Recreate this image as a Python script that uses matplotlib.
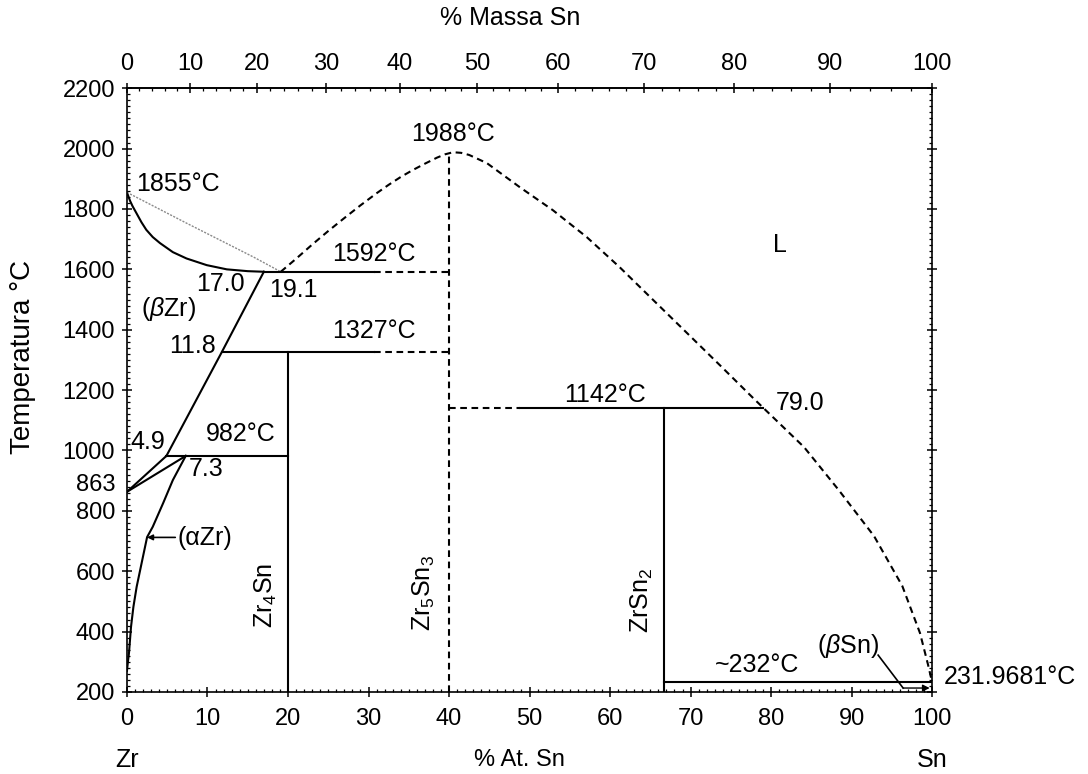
import numpy as np
import matplotlib.pyplot as plt
from matplotlib.ticker import MultipleLocator, FixedLocator

plt.rcParams['font.family'] = ['Liberation Sans', 'DejaVu Sans']
plt.rcParams['mathtext.fontset'] = 'custom'
plt.rcParams['mathtext.rm'] = 'Liberation Sans'
plt.rcParams['mathtext.it'] = 'Liberation Sans:italic'

M_ZR = 91.224
M_SN = 118.71

# phase boundaries (x = at.% Sn, T in degC)
solidus_x = [0, 0.2, 0.4, 0.7, 1.2, 1.8, 2.4, 3.2, 4.1, 5.7, 7.4, 9.9, 12.4, 15.0, 17.0]
solidus_T = [1855, 1840, 1826, 1809, 1785, 1756, 1731, 1707, 1687, 1657, 1636, 1614, 1600, 1594, 1592]

liq_faint_x = [0, 7.4, 15.7, 19.1]
liq_faint_T = [1855, 1753, 1641, 1592]

liq_x = [19.1, 21, 23, 25, 27, 29, 31, 32.5, 34, 35.5, 37, 38.5, 39.5, 40.5,
         41.5, 42.5, 44.7, 48.8, 52.9, 57.1, 61.2, 65.3, 69.6, 73.7, 77.8, 79.0,
         84.1, 88.4, 92.8, 96.3, 98.5, 99.5, 100]
liq_T = [1592, 1635, 1682, 1727, 1770, 1812, 1852, 1880, 1906, 1929, 1950, 1970,
         1981, 1988, 1986, 1979, 1952, 1872, 1796, 1707, 1607, 1500, 1388, 1281,
         1173, 1142, 1011, 869, 716, 551, 395, 290, 232]

beta_x = [17.0, 11.8, 4.9]
beta_T = [1592, 1327, 982]

beta_transus_x = [0, 4.9]
beta_transus_T = [863, 982]

alpha_top_x = [0, 7.3]
alpha_top_T = [863, 982]

alpha_solvus_x = [7.3, 5.7, 4.5, 3.2, 2.5, 1.9, 1.2, 0.8, 0.5, 0.25, 0.1, 0]
alpha_solvus_T = [982, 902, 826, 747, 713, 637, 548, 482, 415, 329, 296, 270]

# (T, x_start, x_end) for solid and dashed parts of the isotherms
iso_solid = [(1592, 17.0, 30.7), (1327, 11.8, 30.7), (1142, 48.8, 79.0),
             (982, 4.9, 20.0), (232, 66.7, 100.0)]
iso_dashed = [(1592, 30.7, 40.0), (1327, 30.7, 40.0), (1142, 40.0, 48.8)]

# compounds (x, T_top, dashed?)
compounds = [(20.0, 1327, False), (40.0, 1988, True), (66.7, 1142, False)]

at_ticks = list(range(0, 101, 10))
wt_ticks = list(range(0, 101, 10))
T_ticks = list(range(200, 2201, 200))


def at_to_wt(a):
    a = np.asarray(a, dtype=float)
    with np.errstate(divide='ignore', invalid='ignore'):
        return 100 * a * M_SN / (a * M_SN + (100 - a) * M_ZR)


def wt_to_at(w):
    w = np.asarray(w, dtype=float)
    with np.errstate(divide='ignore', invalid='ignore'):
        n_sn = w / M_SN
        n_zr = (100 - w) / M_ZR
        return 100 * n_sn / (n_sn + n_zr)


fig = plt.figure(figsize=(10.88, 7.74), dpi=100)
ax = fig.add_axes([0.1167, 0.106, 0.740, 0.780])
ax.set_xlim(0, 100)
ax.set_ylim(200, 2200)

lw = 1.5
dash = (0, (3.2, 2.2))

ax.plot(solidus_x, solidus_T, color='k', lw=lw)
ax.plot(liq_faint_x, liq_faint_T, color='#8a8a8a', lw=1.0, ls=(0, (1.5, 1)))
ax.plot(liq_x, liq_T, color='k', lw=lw, ls=dash)
ax.plot(beta_x, beta_T, color='k', lw=lw)
ax.plot(beta_transus_x, beta_transus_T, color='k', lw=lw)
ax.plot(alpha_top_x, alpha_top_T, color='k', lw=lw)
ax.plot(alpha_solvus_x, alpha_solvus_T, color='k', lw=lw)

for T, x0, x1 in iso_solid:
    ax.plot([x0, x1], [T, T], color='k', lw=lw)
for T, x0, x1 in iso_dashed:
    ax.plot([x0, x1], [T, T], color='k', lw=lw, ls=dash)
for x, top, dashed in compounds:
    ax.plot([x, x], [200, top], color='k', lw=lw, ls=dash if dashed else '-')

# (beta Sn) pointer
ax.plot([93.3, 96.4], [322, 213], color='k', lw=1.2)
ax.annotate('', xy=(99.7, 213), xytext=(96.4, 213),
            arrowprops=dict(arrowstyle='-|>', color='k', lw=1.0,
                            mutation_scale=10, shrinkA=0, shrinkB=0))
# (alpha Zr) pointer
ax.annotate('', xy=(2.5, 712), xytext=(6.0, 712),
            arrowprops=dict(arrowstyle='-|>', color='k', lw=1.2,
                            mutation_scale=8, shrinkA=0, shrinkB=0))

fs = 18
labels = [
    ('1855°C', 1.1, 1883, 'left'),
    ('1988°C', 40.5, 2048, 'center'),
    ('1592°C', 25.5, 1650, 'left'),
    ('17.0', 14.6, 1550, 'right'),
    ('19.1', 17.6, 1530, 'left'),
    (r'($\beta$Zr)', 5.2, 1470, 'center'),
    ('11.8', 11.0, 1347, 'right'),
    ('1327°C', 25.5, 1395, 'left'),
    ('1142°C', 59.4, 1185, 'center'),
    ('79.0', 80.6, 1157, 'left'),
    ('L', 81.1, 1680, 'center'),
    ('982°C', 14.1, 1055, 'center'),
    ('4.9', 2.6, 1028, 'center'),
    ('7.3', 9.8, 940, 'center'),
    ('(αZr)', 6.3, 710, 'left'),
    ('~232°C', 78.2, 290, 'center'),
    (r'($\beta$Sn)', 89.6, 352, 'center'),
    ('231.9681°C', 101.4, 250, 'left'),
]
for txt, x, T, ha in labels:
    ax.text(x, T, txt, ha=ha, va='center', fontsize=fs, clip_on=False)

phase_names = [('Zr$_4$Sn', 17.3, 520), ('Zr$_5$Sn$_3$', 36.9, 528),
               ('ZrSn$_2$', 64.0, 505)]
for txt, x, T in phase_names:
    ax.text(x, T, txt, ha='center', va='center', rotation=90, fontsize=fs)

# axes styling
for s in ax.spines.values():
    s.set_linewidth(1.2)
ax.set_xticks(at_ticks)
ax.set_yticks(T_ticks)
ax.xaxis.set_minor_locator(MultipleLocator(1))
ax.yaxis.set_minor_locator(MultipleLocator(20))
ax.tick_params(which='major', direction='inout', length=7, width=1.1,
               labelsize=17, right=True)
ax.tick_params(axis='x', which='major', pad=8)
ax.tick_params(axis='y', which='major', pad=5)
ax.tick_params(which='minor', direction='in', length=2.5, width=0.9, right=True)

ax.annotate('863', xy=(0, 885), xycoords=('axes fraction', 'data'),
            xytext=(-8.5, 0), textcoords='offset points',
            ha='right', va='center', fontsize=17)

sec = ax.secondary_xaxis('top', functions=(at_to_wt, wt_to_at))
sec.set_xticks(wt_ticks)
sec.xaxis.set_minor_locator(FixedLocator(list(range(0, 101, 2))))
sec.tick_params(which='major', direction='inout', length=7, width=1.1,
                labelsize=17, pad=6)
sec.tick_params(which='minor', direction='in', length=2.5, width=0.9)
sec.spines['top'].set_linewidth(1.2)

blend = ax.get_xaxis_transform()
ax.text(0, -0.113, 'Zr', transform=blend, ha='center', va='center', fontsize=18)
ax.text(100, -0.113, 'Sn', transform=blend, ha='center', va='center', fontsize=18)
ax.text(48.8, -0.113, '% At. Sn', transform=blend, ha='center', va='center',
        fontsize=17)

fig.text(0.469, 0.977, '% Massa Sn', ha='center', va='center', fontsize=18)
fig.text(0.021, 0.539, 'Temperatura °C', ha='center', va='center',
         rotation=90, fontsize=20)

fig.savefig('out.png', dpi=100)
